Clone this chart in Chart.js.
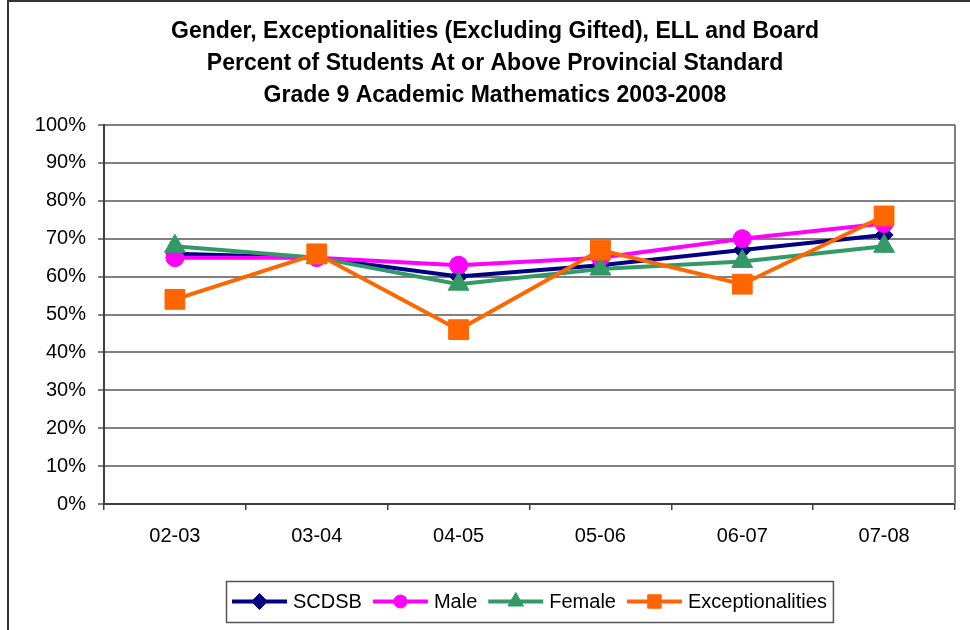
<!DOCTYPE html>
<html>
<head>
<meta charset="utf-8">
<script src="https://cdn.jsdelivr.net/npm/chart.js@4/dist/chart.umd.min.js"></script>
<style>
  html, body { margin: 0; padding: 0; background: #fff; }
  #wrap { width: 970px; height: 630px; position: relative; }
</style>
</head>
<body>
<div id="wrap"><canvas id="c" width="970" height="630"></canvas></div>
<script>
// ---- Data ----
const categories = ['02-03', '03-04', '04-05', '05-06', '06-07', '07-08'];
const scdsb = [66, 65, 60, 63, 67, 71];
const male = [65, 65, 63, 65, 70, 74];
const female = [68, 65, 58, 62, 64, 68];
const exceptionalities = [54, 66, 46, 67, 58, 76];
const seriesNames = ['SCDSB', 'Male', 'Female', 'Exceptionalities'];
const titleLines = [
  'Gender, Exceptionalities (Excluding Gifted), ELL and Board',
  'Percent of Students At or Above Provincial Standard',
  'Grade 9 Academic Mathematics 2003-2008'
];
const yTickValues = [0, 10, 20, 30, 40, 50, 60, 70, 80, 90, 100];

const FONT = "'Liberation Sans', Arial, sans-serif";
Chart.defaults.font.family = FONT;

const styles = [
  { color: '#000080', pointStyle: 'rectRot', radius: 9, legendRadius: 8, order: 3 },
  { color: '#FF00FF', pointStyle: 'circle', radius: 9, legendRadius: 6.5, order: 2 },
  { color: '#339966', pointStyle: 'triangle', radius: 12, legendRadius: 9, order: 1 },
  { color: '#FF6600', pointStyle: 'rect', radius: 14, legendRadius: 9.5, order: 0 }
];
const values = [scdsb, male, female, exceptionalities];

const datasets = values.map((v, i) => ({
  label: seriesNames[i],
  data: v,
  borderColor: styles[i].color,
  backgroundColor: styles[i].color,
  pointBackgroundColor: styles[i].color,
  pointBorderColor: styles[i].color,
  pointBorderWidth: 1,
  borderWidth: 4,
  pointStyle: styles[i].pointStyle,
  pointRadius: styles[i].radius,
  pointHoverRadius: styles[i].radius,
  tension: 0,
  order: styles[i].order,
  legendRadius: styles[i].legendRadius
}));

const decorPlugin = {
  id: 'decor',
  afterDraw(chart) {
    const ctx = chart.ctx;
    const a = chart.chartArea;
    ctx.save();
    // outer frame (top + left)
    ctx.strokeStyle = '#333333';
    ctx.lineWidth = 2;
    ctx.beginPath();
    ctx.moveTo(8, 631);
    ctx.lineTo(8, 1);
    ctx.lineTo(970, 1);
    ctx.stroke();
    // plot area right border
    ctx.strokeStyle = '#808080';
    ctx.lineWidth = 2;
    ctx.beginPath();
    ctx.moveTo(Math.round(a.right), a.top);
    ctx.lineTo(Math.round(a.right), a.bottom);
    ctx.stroke();
    // title
    ctx.fillStyle = '#000';
    ctx.font = 'bold 23px ' + FONT;
    ctx.textAlign = 'center';
    ctx.textBaseline = 'middle';
    titleLines.forEach((t, i) => ctx.fillText(t, 495, 32 + i * 32));
    // legend
    ctx.font = '20px ' + FONT;
    const lineLen = 55, gapLT = 6, gapItem = 11, padX = 6;
    const ds = chart.data.datasets;
    const widths = ds.map(d => ctx.measureText(d.label).width);
    let total = 0;
    widths.forEach((w, i) => { total += lineLen + gapLT + w + (i < ds.length - 1 ? gapItem : 0); });
    const boxW = total + padX * 2;
    const cx = (a.left + a.right) / 2;
    const boxL = Math.round(cx - boxW / 2);
    const boxT = 581, boxH = 41;
    const midY = boxT + boxH / 2;
    ctx.strokeStyle = '#555555';
    ctx.lineWidth = 1.5;
    ctx.strokeRect(boxL + 0.5, boxT + 0.5, boxW, boxH);
    let x = boxL + padX;
    ds.forEach((d, i) => {
      ctx.strokeStyle = d.borderColor;
      ctx.fillStyle = d.borderColor;
      ctx.lineWidth = 4;
      ctx.beginPath();
      ctx.moveTo(x, midY);
      ctx.lineTo(x + lineLen, midY);
      ctx.stroke();
      ctx.lineWidth = 1;
      Chart.helpers.drawPoint(ctx, { pointStyle: d.pointStyle, radius: d.legendRadius, rotation: 0, borderWidth: 1 }, x + lineLen / 2, midY);
      ctx.fillStyle = '#000';
      ctx.textAlign = 'left';
      ctx.textBaseline = 'middle';
      ctx.fillText(d.label, x + lineLen + gapLT, midY + 1);
      x += lineLen + gapLT + widths[i] + gapItem;
    });
    ctx.restore();
  }
};

new Chart(document.getElementById('c'), {
  type: 'line',
  data: { labels: categories, datasets },
  options: {
    responsive: false,
    animation: false,
    events: [],
    layout: { padding: { top: 125, left: 8, right: 7, bottom: 0 } },
    plugins: { legend: { display: false }, title: { display: false }, tooltip: { enabled: false } },
    scales: {
      x: {
        offset: true,
        grid: { display: true, offset: true, drawOnChartArea: false, drawTicks: true, tickLength: 6, color: '#404040', lineWidth: 1.5 },
        border: { color: '#404040', width: 2 },
        ticks: { color: '#000', font: { size: 20 }, padding: 14, maxRotation: 0 },
        afterFit(scale) { scale.height = 126; }
      },
      y: {
        min: 0, max: 100,
        afterBuildTicks(scale) { scale.ticks = yTickValues.map(v => ({ value: v })); },
        grid: { color: '#808080', lineWidth: 2, tickLength: 6 },
        border: { color: '#404040', width: 2 },
        ticks: { color: '#000', font: { size: 20 }, padding: 12, callback: v => v + '%' },
        afterFit(scale) { scale.width = 96; }
      }
    }
  },
  plugins: [decorPlugin]
});
</script>
</body>
</html>
